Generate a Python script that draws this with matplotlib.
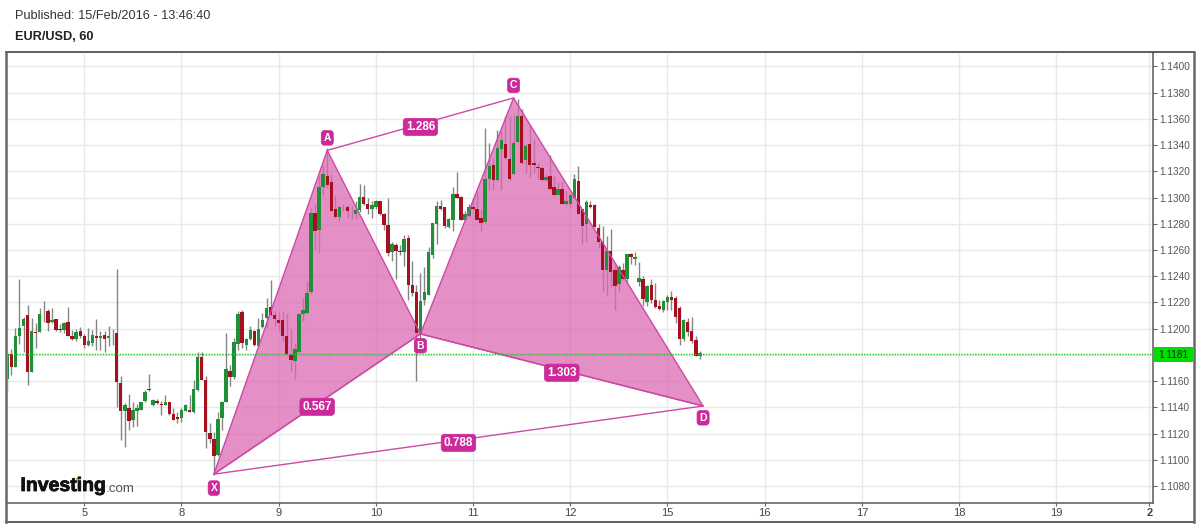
import matplotlib
matplotlib.use("Agg")
import matplotlib.pyplot as plt
import matplotlib.patheffects as pe
from matplotlib.lines import Line2D
from matplotlib.patches import Rectangle, Polygon

plt.rcParams['font.family'] = ['Liberation Sans', 'DejaVu Sans']

# hourly candles, pips relative to 1.1200, first candle sits 19 bars before the "5" tick
first_bar = -19
opens = [-38.4, -19.6, -29.3, -5.9, 1.8, 10.7, -32.8, -2.3, -2.5, 11.5, 13.7, 4.8, 7.4, 0, -1.3, 5.3, -5.3, -7.6, -2.0,
         -5.3, -12.2, -10.9, -5.6, -7.4, -4.8, -7.4, -4.8, -3.3, -41.5, -63.1, -60.3, -69.5, -63.1, -62.4, -55.5,
         -46.1, -58.3, -55.2, -57.8, -58.0, -55.7, -65.2, -67.7, -68.5, -62.6, -62.1, -63.6, -47.1, -21.6, -39.4,
         -79.7, -84.0, -96.5, -68.2, -56.2, -32.3, -36.6, -12.0,
         12.5, -12.2, -7.9, -1.5, -13.0, 1.0, 8.1, 16.3, 10.7, 6.9, 6.4, -5.3, -19.9, -24.9, -18.1, 11.2, 11.7, 27.7,
         88.3, 75.6, 107.9, 116.8, 112.0, 91.4, 85.0, 93.1, 92.6, 87.8, 87.5, 90.6, 100.3, 95.4, 90.9, 92.9, 97.7,
         87.8, 79.4, 58.5, 63.6, 59.6, 58.3, 69.2, 33.6, 27.7, -3.8, 22.1, 26.0, 56.5, 80.2, 93.4, 92.6, 77.6,
         83.2, 102.8, 100.3, 83.2, 85.8, 92.9, 91.4, 84.5, 81.2, 113.8, 124.5, 113.3, 137.4, 141.2, 129.5, 118.3,
         142.5, 162.1, 129.0, 140.5, 126.5, 123.4, 122.7, 113.3, 116.8, 108.2, 102.3, 106.9, 94.9, 95.2, 100.0,
         112.5, 90.9, 80.2, 94.7, 94.7, 76.6, 66.4, 44.8, 59.6, 45.0, 34.4, 44.5, 37.9, 57.3, 52.9, 35.9, 38.2,
         20.6, 33.6, 22.1, 17.1, 14.5, 20.1, 24.2, 23.4, 15.8, -7.9, 5.1, -2.0, -8.9, -20.6]
closes = [-19.1, -29.3, -5.3, 0.3, 7.4, -32.8, -2.0, -3.6, 11.5, 10.9, 4.1, 6.6, -1.0, -0.8, 4.3, -5.3, -8.1, -2.8, -5.3,
          -12.2, -9.7, -4.8, -7.4, -5.6, -8.1, -5.3, -5.1, -41.0, -63.1, -58.3, -70.2, -62.1, -60.3, -55.7, -48.1,
          -47.1, -54.7, -56.8, -58.5, -56.2, -65.4, -69.5, -69.2, -61.8, -58.3, -63.4, -45.8, -21.6, -38.9, -79.1,
          -84.2, -97.5, -69.0, -55.7, -30.8, -37.2, -10.4, 11.5,
          -10.9, -7.9, -0.8, -12.5, 0, 6.9, 15.8, 10.2, 7.6, 4.3, -5.9, -19.1, -24.2, -15.5, 11.2, 14.3, 27.5, 88.3,
          74.3, 108.2, 117.6, 109.9, 90.1, 85.0, 92.9, 92.6, 89.6, 87.3, 90.6, 100.5, 95.4, 90.9, 94.7, 97.7, 87.5,
          78.9, 57.8, 64.6, 59.0, 58.8, 68.5, 33.1, 27.2, -3.3, 21.1, 28.2, 58.5, 80.7, 93.4, 90.9, 78.1, 83.7,
          102.8, 99.5, 83.2, 87.5, 92.9, 90.9, 83.2, 80.7, 114.5, 123.9, 113.3, 137.9, 143.8, 130.3, 114.5, 141.8,
          162.1, 126.0, 139.7, 125.2, 125.2, 122.9, 113.3, 115.5, 106.6, 102.1, 106.9, 95.4, 97.7, 101.8, 114.3,
          87.8, 78.6, 96.5, 92.9, 77.4, 66.4, 45.0, 59.0, 43.0, 32.8, 46.8, 37.9, 56.8, 54.5, 54.5, 38.7, 22.9,
          32.8, 22.1, 16.5, 14.8, 21.4, 23.9, 22.1, 8.9, -7.6, 6.9, -2.5, -9.7, -20.6, -18.6]
highs = [-17.3, -15.5, 0.3, 38.2, 8.9, 18.3, 8.1, 4.3, 15.5, 21.4, 15.3, 15.5, 7.4, 3.6, 5.1, 16.5, -0.8, -0.3, 1.3,
         -4.1, 0.3, -0.8, 7.4, -2.0, -2.0, 1.8, -0.3, 45.6, -35.9, -56.8, -49.6, -56.2, -57.8, -55.7, -46.6,
         -34.4, -53.7, -53.7, -55.2, -50.6, -55.7, -60.3, -63.6, -60.3, -57.3, -50.4, -39.4, -17.6, -17.8, -36.4,
         -72.0, -79.1, -63.4, -55.2, -3.3, -27.5, -7.4, 13.7,
         14.5, -7.1, 1.8, -0.8, 8.1, 12.0, 23.4, 37.4, 13.2, 12.5, 13.2, 12.0, 0, -10.9, 12.0, 23.4, 36.1, 92.1,
         95.4, 116.3, 124.5, 137.9, 117.6, 102.3, 94.7, 95.4, 94.7, 93.4, 97.2, 110.5, 109.9, 99.8, 97.2, 98.5, 97.7,
         88.3, 99.8, 65.9, 65.4, 64.1, 71.8, 71.8, 51.9, 33.6, 42.5, 47.1, 62.4, 80.7, 97.2, 98.0, 92.9, 84.5,
         108.2, 119.6, 101.5, 89.6, 95.4, 99.8, 104.9, 90.9, 153.2, 141.8, 130.3, 151.9, 150.7, 162.1, 162.1, 163.4,
         175.4, 167.2, 140.5, 154.5, 144.8, 126.5, 123.9, 117.6, 132.8, 116.3, 112.0, 112.5, 104.9, 102.3, 117.6,
         123.9, 91.4, 98.0, 97.2, 95.2, 80.2, 78.1, 70.5, 76.4, 48.9, 48.9, 50.1, 57.3, 57.8, 58.8, 50.6, 40.0,
         33.6, 38.2, 34.9, 22.1, 22.1, 26.0, 29.0, 24.7, 17.1, 7.4, 8.1, 8.7, -5.3, -16.8]
lows = [-47.8, -35.6, -29.3, -11.5, -18.1, -42.8, -32.8, -15.0, -2.8, 5.3, -2.0, 4.3, -2.0, -2.8, -3.3, -5.3, -8.4, -9.2, -7.1,
        -14.5, -13.5, -13.5, -16.5, -16.5, -17.6, -13.5, -12.2, -59.8, -84.7, -90.6, -77.1, -75.1, -74.1, -62.4, -55.7,
        -47.6, -58.8, -57.3, -65.7, -58.5, -65.9, -70.0, -72.3, -71.5, -63.1, -63.9, -64.4, -47.6, -39.4, -90.9,
        -87.3, -111.5, -97.0, -77.1, -56.2, -44.0, -38.4, -16.5,
        -14.8, -16.5, -8.4, -13.5, -13.5, 0.5, 0.5, 9.4, 1.8, -2.0, -9.7, -19.9, -32.6, -38.4, -18.6, 5.6, 11.2, 26.7,
        59.8, 57.8, 102.3, 107.4, 89.6, 84.5, 81.9, 89.6, 84.5, 83.7, 83.7, 88.8, 94.7, 87.8, 84.5, 90.9, 87.0,
        75.6, 55.2, 51.9, 37.9, 56.5, 48.1, 21.6, 24.7, -40.2, -8.4, 18.3, 25.5, 54.0, 64.6, 90.3, 76.9, 76.9,
        74.3, 99.3, 82.7, 82.7, 85.3, 90.3, 82.7, 74.3, 80.7, 106.1, 105.6, 112.5, 106.1, 129.0, 112.5, 118.3,
        142.3, 125.5, 118.9, 115.8, 118.9, 113.8, 113.3, 113.0, 106.1, 101.5, 101.8, 95.2, 94.7, 93.1, 99.8,
        87.5, 64.9, 65.9, 92.1, 76.9, 61.6, 28.5, 24.7, 31.8, 14.5, 27.7, 37.4, 35.9, 49.6, 48.9, 32.3, 17.1,
        17.6, 19.6, 15.8, 14.0, 12.7, 14.5, 14.5, 4.3, -12.2, -9.7, -5.3, -10.9, -21.1, -23.2]

base_price = 1.12
last_price = 1.1181

# harmonic pattern pivots (bar, price)
pattern_names = ['X', 'A', 'B', 'C', 'D']
pattern_bars = [32, 60, 83, 106, 152.8]
pattern_prices = [1.1089, 1.1336, 1.1196, 1.1376, 1.1141]
ratio_legs = [('A', 'C', '1.286'), ('X', 'B', '0.567'), ('B', 'D', '1.303'), ('X', 'D', '0.788')]

date_bars = [0, 24, 48, 72, 96, 120, 144, 168, 192, 216, 240, 263]
date_labels = ['5', '8', '9', '10', '11', '12', '15', '16', '17', '18', '19', '2']
price_ticks = [1.108, 1.11, 1.112, 1.114, 1.116, 1.118, 1.12, 1.122, 1.124, 1.126, 1.128, 1.13, 1.132, 1.134, 1.136,
               1.138, 1.14]

W, H = 1200, 525
fig = plt.figure(figsize=(W / 100, H / 100), dpi=100)

ax = fig.add_axes([7.5 / W, 1 - 503 / H, 1145.5 / W, 449.5 / H])
ax.set_xlim(-18.96, 263.9)
ax.set_ylim(1.1067, 1.14099)
ax.set_axisbelow(True)
ax.grid(True, color='#e9e9e9', lw=1)
for s in ['left', 'top']:
    ax.spines[s].set_visible(False)
for s in ['right', 'bottom']:
    ax.spines[s].set_color('#666666')
    ax.spines[s].set_linewidth(1.2)

ax.set_xticks(date_bars)
ax.set_xticklabels(date_labels)
ax.yaxis.tick_right()
ax.set_yticks(price_ticks)
ax.set_yticklabels([f'{p:.4f}' for p in price_ticks])
ax.tick_params(axis='x', length=2, width=0.8, color='#666666', labelcolor='#444444', labelsize=8, pad=1.5)
ax.tick_params(axis='y', length=3, width=0.8, color='#666666', labelcolor='#555555', labelsize=7.2, pad=1.5)
ax.get_xticklabels()[-1].set_fontweight('bold')

# candles
for n in range(len(opens)):
    bar = first_bar + n
    o = base_price + opens[n] / 1e4
    c = base_price + closes[n] / 1e4
    hi = base_price + highs[n] / 1e4
    lo = base_price + lows[n] / 1e4
    col = '#1f8f38' if c > o else '#a50f1e'
    ax.vlines(bar, lo, hi, color='#858585', lw=1, zorder=3)
    ax.bar(bar, max(abs(c - o), 0.00004), bottom=min(o, c), width=0.85, color=col, zorder=4, lw=0)

# pattern
pts = {n: (b, p) for n, b, p in zip(pattern_names, pattern_bars, pattern_prices)}
pink = '#cc2a9a'
for tri in (['X', 'A', 'B'], ['B', 'C', 'D']):
    ax.add_patch(Polygon([pts[n] for n in tri], closed=True, fc='#db6ab3', alpha=0.75, ec='none', zorder=3.5))
    ax.add_patch(Polygon([pts[n] for n in tri], closed=True, fc='none', ec='#cc4aa4', lw=1, zorder=5.5))
for a, b, _ in ratio_legs:
    ax.plot([pts[a][0], pts[b][0]], [pts[a][1], pts[b][1]], color='#cc4aa4', lw=1, zorder=5.5)

pill = dict(boxstyle='round,pad=0.22,rounding_size=0.3', fc=pink, ec=pink, lw=0.5)
for a, b, txt in ratio_legs:
    mx = (pts[a][0] + pts[b][0]) / 2
    my = (pts[a][1] + pts[b][1]) / 2
    ax.annotate(txt, (mx, my), xytext=(0, -2), textcoords='offset points', ha='center', va='center', color='white',
                fontsize=8.5, fontweight='bold', bbox=pill, zorder=7)
letter_offset = {'X': -10, 'A': 9, 'B': -8.5, 'C': 9, 'D': -8.5}
for n in pattern_names:
    ax.annotate(n, pts[n], xytext=(0, letter_offset[n]), textcoords='offset points', ha='center', va='center',
                color='white', fontsize=7.5, fontweight='bold', bbox=pill, zorder=7)

# last price line and tag
ax.axhline(last_price, color='#1fc71f', lw=1, ls=(0, (1, 1)), zorder=6)
fig.add_artist(Rectangle((1153 / W, 1 - 362 / H), 40 / W, 15 / H, transform=fig.transFigure, fc='#00dd00', ec='none',
                         zorder=2))
fig.text(1173 / W, 1 - 354.5 / H, '1.1181', ha='center', va='center', fontsize=7.2, color='#222222')

# frame round the whole chart, darker top/bottom and thick grey sides
for x0, y0, x1, y1, col, lw in [(6, 52, 1194, 52, '#333333', 1.1), (6, 522, 1194, 522, '#333333', 1.1),
                                (6, 52, 6, 522, '#666666', 1.8), (1194, 52, 1194, 522, '#666666', 1.8)]:
    fig.add_artist(Line2D([x0 / W, x1 / W], [1 - y0 / H, 1 - y1 / H], color=col, lw=lw, solid_capstyle='projecting',
                          transform=fig.transFigure))

# header
fig.text(15 / W, 1 - 16 / H, 'Published: 15/Feb/2016 - 13:46:40', ha='left', va='center', fontsize=9.2, color='#333333')
fig.text(15 / W, 1 - 37 / H, 'EUR/USD, 60', ha='left', va='center', fontsize=9.2, fontweight='bold', color='#222222')

# logo
logo = fig.text(20.5 / W, 1 - 486.5 / H, 'Investing', ha='left', va='center', fontsize=14, fontweight='bold',
                color='#111111')
logo.set_path_effects([pe.withStroke(linewidth=0.6, foreground='#111111')])
fig.text(105.5 / W, 1 - 488.5 / H, '.com', ha='left', va='center', fontsize=9.6, color='#555555')
fig.add_artist(Rectangle((76 / W, 1 - 481 / H), 3 / W, 3 / H, transform=fig.transFigure, fc='#f0a030', ec='none'))

fig.savefig('out.png', dpi=100)
